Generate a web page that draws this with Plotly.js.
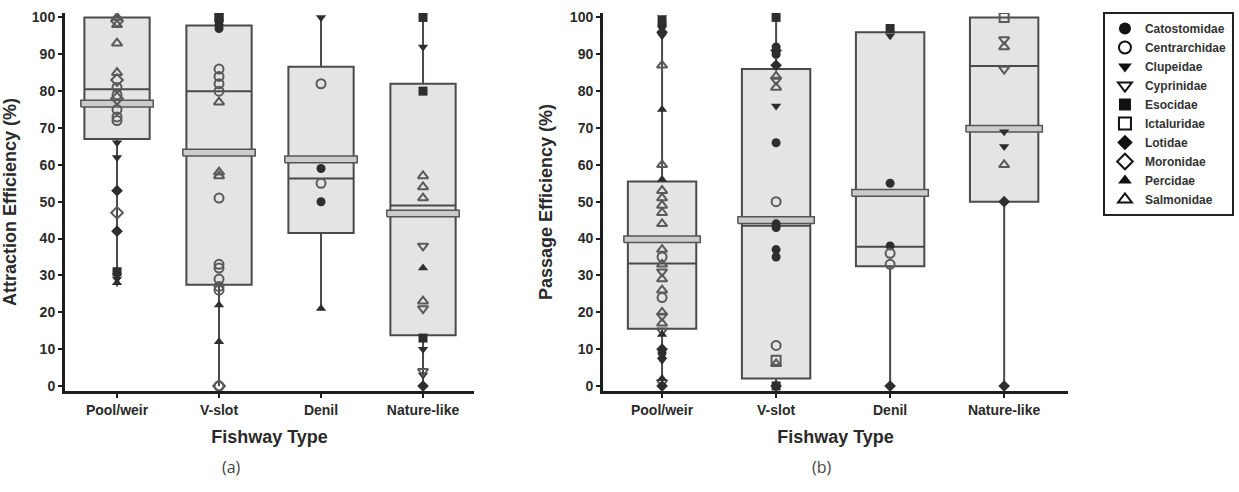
<!DOCTYPE html>
<html>
<head>
<meta charset="utf-8">
<script src="https://cdn.plot.ly/plotly-3.0.1.min.js"></script>
<style>
  html, body { margin: 0; padding: 0; background: #ffffff; }
  #chart { width: 1239px; height: 492px; }
</style>
</head>
<body>
<div id="chart"></div>
<script>
// Fishway categories and fish families
const fishwayTypes = ['Pool/weir', 'V-slot', 'Denil', 'Nature-like'];
const families = ['Catostomidae', 'Centrarchidae', 'Clupeidae', 'Cyprinidae', 'Esocidae',
                  'Ictaluridae', 'Lotidae', 'Moronidae', 'Percidae', 'Salmonidae'];
const familyCodes = ['Cat', 'Cen', 'Clu', 'Cyp', 'Eso', 'Ict', 'Lot', 'Mor', 'Per', 'Sal'];

// (a) Attraction efficiency (%) box statistics per fishway type
const attractionQ1     = [67.0, 27.5, 41.5, 13.8];
const attractionMedian = [80.5, 80.0, 56.3, 49.0];
const attractionQ3     = [100, 97.8, 86.6, 82.0];
const attractionMin    = [27.0, 0, 20.5, 0];
const attractionMax    = [100, 100, 100, 100];
const attractionMean   = [76.6, 63.3, 61.5, 46.8];

// (a) Attraction efficiency observations: fishway index, value (%), family code
const attractionType = [
  0,0,0,0,0,0,0,0,0,0,0,0,0,0,0,0,0,0,0,0,0,
  1,1,1,1,1,1,1,1,1,1,1,1,1,1,1,1,1,1,1,1,1,1,
  2,2,2,2,2,2,
  3,3,3,3,3,3,3,3,3,3,3,3,3,3,3
];
const attractionValue = [
  100, 99, 98, 93, 85, 83, 81, 79, 78, 75, 73, 72, 66, 62, 53, 47, 42, 31, 30, 29, 28,
  100, 100, 99, 98, 97, 86, 84, 82, 80, 77, 58, 57, 51, 33, 32, 29, 27, 26, 22, 12, 0, 0,
  100, 82, 59, 55, 50, 21,
  100, 92, 80, 57, 54, 51, 38, 32, 23, 21, 13, 10, 4, 3, 0
];
const attractionFamily = [
  'Sal','Mor','Sal','Sal','Sal','Mor','Cen','Cen','Mor','Cen','Cen','Cen','Clu','Clu','Lot','Mor','Lot','Eso','Clu','Clu','Per',
  'Eso','Eso','Cat','Cat','Cat','Cen','Cen','Cen','Cen','Sal','Sal','Sal','Cen','Cen','Cen','Cen','Cen','Cen','Per','Per','Cen','Mor',
  'Clu','Cen','Cat','Cen','Cat','Per',
  'Eso','Clu','Eso','Sal','Sal','Sal','Cyp','Per','Sal','Cyp','Eso','Clu','Cyp','Clu','Lot'
];

// (b) Passage efficiency (%) box statistics per fishway type
const passageQ1     = [15.5, 2.0, 32.5, 50.0];
const passageMedian = [33.2, 43.5, 37.8, 86.8];
const passageQ3     = [55.5, 86.0, 96.0, 100];
const passageMin    = [0, 0, 0, 0];
const passageMax    = [100, 100, 97, 100];
const passageMean   = [39.8, 45.0, 52.4, 69.8];

// (b) Passage efficiency observations: fishway index, value (%), family code
const passageType = [
  0,0,0,0,0,0,0,0,0,0,0,0,0,0,0,0,0,0,0,0,0,0,0,0,0,0,0,0,0,0,0,0,0,0,
  1,1,1,1,1,1,1,1,1,1,1,1,1,1,1,1,1,1,1,1,
  2,2,2,2,2,2,2,
  3,3,3,3,3,3,3,3,3
];
const passageValue = [
  100, 99, 98, 97, 96, 95, 87, 75, 60, 56, 53, 51, 49, 47, 44, 37, 35, 33, 31, 29, 26, 24, 20, 19, 17, 15, 14, 10, 9, 8, 7, 2, 1, 0,
  100, 92, 91, 90, 87, 84, 83, 81, 76, 66, 50, 44, 43, 37, 35, 11, 7, 6, 0, 0,
  97, 95, 55, 38, 36, 33, 0,
  100, 94, 92, 86, 69, 65, 60, 50, 0
];
const passageFamily = [
  'Clu','Eso','Cat','Clu','Lot','Clu','Sal','Per','Sal','Per','Sal','Sal','Sal','Sal','Sal','Sal','Cen','Sal','Cyp','Sal','Sal','Cen','Sal','Cyp','Sal','Cyp','Per','Lot','Cat','Per','Clu','Per','Cyp','Lot',
  'Eso','Cat','Lot','Cat','Lot','Sal','Cyp','Sal','Clu','Cat','Cen','Cat','Cat','Cat','Cat','Cen','Ict','Sal','Eso','Lot',
  'Eso','Clu','Cat','Cat','Cen','Cen','Lot',
  'Ict','Cyp','Sal','Cyp','Clu','Clu','Sal','Lot','Lot'
];

// Marker symbol for each family code
const symbolFor = {
  Cat: 'circle', Cen: 'circle-open', Clu: 'triangle-down', Cyp: 'triangle-down-open',
  Eso: 'square', Ict: 'square-open', Lot: 'diamond', Mor: 'diamond-open',
  Per: 'triangle-up', Sal: 'triangle-up-open'
};

const FONT = '"Liberation Sans", Arial, Helvetica, sans-serif';
const AXIS_COLOR = '#1e1e1e';
const BOX_LINE = '#4a4a4a';

function boxTrace(q1, med, q3, lo, hi, width, xa, ya) {
  return {
    type: 'box', xaxis: xa, yaxis: ya,
    x: [0, 1, 2, 3], q1: q1, median: med, q3: q3, lowerfence: lo, upperfence: hi,
    width: width, whiskerwidth: 0, boxpoints: false,
    fillcolor: '#e4e4e4', line: { color: BOX_LINE, width: 2 },
    showlegend: false, hoverinfo: 'skip'
  };
}

// Mean shown as a thick grey bar slightly wider than the box
function meanTrace(means, boxWidth, xa, ya) {
  const hw = boxWidth / 2 + 0.035, hh = 0.9;
  const xs = [], ys = [];
  means.forEach((m, i) => {
    xs.push(i - hw, i + hw, i + hw, i - hw, i - hw, null);
    ys.push(m - hh, m - hh, m + hh, m + hh, m - hh, null);
  });
  return {
    type: 'scatter', mode: 'lines', xaxis: xa, yaxis: ya,
    x: xs, y: ys, fill: 'toself', fillcolor: '#cbcbcb',
    line: { color: '#555555', width: 1.5 }, showlegend: false, hoverinfo: 'skip'
  };
}

function markerStyle(code, size) {
  const open = symbolFor[code].endsWith('-open');
  return {
    symbol: symbolFor[code], size: size,
    color: open ? '#5a5a5a' : '#2e2e2e',
    line: { color: open ? '#5a5a5a' : '#2e2e2e', width: open ? 2 : 0 }
  };
}

function pointTraces(types, values, fams, xa, ya) {
  return familyCodes.map((code, k) => {
    const xs = [], ys = [];
    fams.forEach((f, i) => { if (f === code) { xs.push(types[i]); ys.push(values[i]); } });
    return {
      type: 'scatter', mode: 'markers', xaxis: xa, yaxis: ya,
      x: xs, y: ys, marker: markerStyle(code, 9),
      legendgroup: code, showlegend: false, name: families[k], hoverinfo: 'y'
    };
  });
}

// Legend-only entries, one per family
const legendTraces = familyCodes.map((code, k) => ({
  type: 'scatter', mode: 'markers', xaxis: 'x2', yaxis: 'y2',
  x: [null], y: [null], name: families[k], legendgroup: code,
  marker: Object.assign(markerStyle(code, 12), {
    color: '#111', line: { color: '#111', width: symbolFor[code].endsWith('-open') ? 2 : 0 }
  })
}));

const wA = 0.64, wB = 0.6;
const data = [].concat(
  legendTraces,
  [boxTrace(attractionQ1, attractionMedian, attractionQ3, attractionMin, attractionMax, wA, 'x', 'y'),
   meanTrace(attractionMean, wA, 'x', 'y')],
  pointTraces(attractionType, attractionValue, attractionFamily, 'x', 'y'),
  [boxTrace(passageQ1, passageMedian, passageQ3, passageMin, passageMax, wB, 'x2', 'y2'),
   meanTrace(passageMean, wB, 'x2', 'y2')],
  pointTraces(passageType, passageValue, passageFamily, 'x2', 'y2')
);

const tickFont = { family: FONT, size: 14, color: '#2a2a2a', weight: 'bold' };
const titleFont = { family: FONT, size: 18, color: '#2a2a2a', weight: 'bold' };

function xAxis(domain, range, anchor) {
  return {
    domain: domain, range: range, anchor: anchor,
    tickmode: 'array', tickvals: [0, 1, 2, 3], ticktext: fishwayTypes,
    showline: true, linewidth: 3, linecolor: AXIS_COLOR, mirror: false,
    ticks: 'outside', ticklen: 4, tickwidth: 2, tickcolor: AXIS_COLOR,
    showgrid: false, zeroline: false, tickfont: tickFont,
    title: { text: 'Fishway Type', font: titleFont, standoff: 14 }
  };
}
function yAxis(title, anchor, standoff) {
  return {
    range: [-1.36, 101.2], anchor: anchor, tick0: 0, dtick: 10,
    showline: true, linewidth: 3, linecolor: AXIS_COLOR,
    ticks: 'outside', ticklen: 4, tickwidth: 2, tickcolor: AXIS_COLOR,
    showgrid: false, zeroline: false, tickfont: tickFont,
    title: { text: title, font: titleFont, standoff: standoff }
  };
}

const captionFont = { family: 'Open Sans, Noto Sans, sans-serif', size: 16, color: '#444' };

const layout = {
  width: 1239, height: 492,
  margin: { l: 65, r: 171, t: 13, b: 101, autoexpand: false },
  paper_bgcolor: '#ffffff', plot_bgcolor: 'rgba(0,0,0,0)',
  font: { family: FONT, color: '#2a2a2a' },
  xaxis: xAxis([0, 0.4078], [-0.51, 3.5], 'y'),
  yaxis: yAxis('Attraction Efficiency (%)', 'x', 21),
  xaxis2: xAxis([0.5364, 1], [-0.518, 3.56], 'y2'),
  yaxis2: yAxis('Passage Efficiency (%)', 'x2', 13),
  showlegend: true,
  legend: {
    xref: 'container', yref: 'container',
    x: 0.8902, y: 0.9756, xanchor: 'left', yanchor: 'top',
    bgcolor: '#ffffff', bordercolor: '#222222', borderwidth: 2,
    font: { family: FONT, size: 12, color: '#333333', weight: 'bold' },
    itemsizing: 'constant', tracegroupgap: 0
  },
  annotations: [
    { text: '(a)', xref: 'paper', yref: 'paper', x: 0.1665, y: -0.201,
      xanchor: 'center', yanchor: 'middle', showarrow: false, font: captionFont },
    { text: '(b)', xref: 'paper', yref: 'paper', x: 0.7547, y: -0.201,
      xanchor: 'center', yanchor: 'middle', showarrow: false, font: captionFont }
  ]
};

Plotly.newPlot('chart', data, layout, { staticPlot: true });
</script>
</body>
</html>
